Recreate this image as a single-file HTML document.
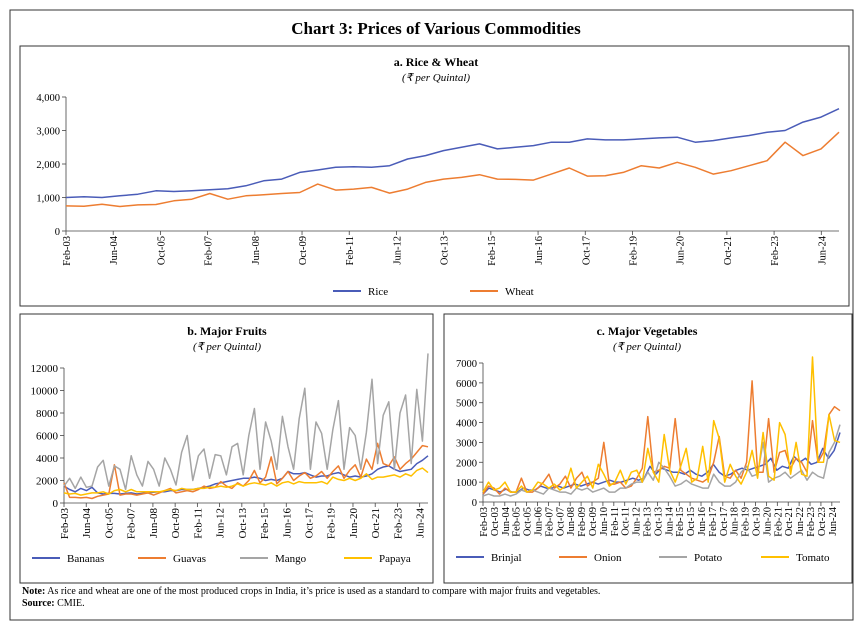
<!DOCTYPE html>
<html><head><meta charset="utf-8"><style>
body{margin:0;background:#fff;}
svg{display:block;font-family:"Liberation Serif",serif;}
</style></head><body>
<svg id="s" width="863" height="634" viewBox="0 0 863 634">
<rect x="10" y="10" width="843" height="610" fill="none" stroke="#333" stroke-width="1"/>
<text x="436" y="34" text-anchor="middle" font-size="17" font-weight="bold">Chart 3: Prices of Various Commodities</text>
<rect x="20" y="46" width="829" height="260" fill="none" stroke="#333"/>
<rect x="20" y="314" width="413" height="269" fill="none" stroke="#333"/>
<rect x="444" y="314" width="408" height="269" fill="none" stroke="#333"/>
<text x="436" y="66" text-anchor="middle" font-size="12" font-weight="bold">a. Rice &amp; Wheat</text>
<text x="436" y="81" text-anchor="middle" font-size="11" font-style="italic">(₹ per Quintal)</text>
<text x="227" y="335" text-anchor="middle" font-size="12" font-weight="bold">b. Major Fruits</text>
<text x="227" y="350" text-anchor="middle" font-size="11" font-style="italic">(₹ per Quintal)</text>
<text x="647" y="335" text-anchor="middle" font-size="12" font-weight="bold">c. Major Vegetables</text>
<text x="647" y="350" text-anchor="middle" font-size="11" font-style="italic">(₹ per Quintal)</text>
<text x="22" y="594" font-size="10"><tspan font-weight="bold">Note:</tspan> As rice and wheat are one of the most produced crops in India, it’s price is used as a standard to compare with major fruits and vegetables.</text>
<text x="22" y="606" font-size="10"><tspan font-weight="bold">Source:</tspan> CMIE.</text>
</svg>
<script>
// Panel a data (two values per year, 2003-2024)
const riceVals=[1000,1020,1000,1050,1100,1200,1180,1200,1230,1260,1350,1500,1550,1750,1820,1900,1920,1900,1950,2150,2250,2400,2500,2600,2450,2500,2550,2650,2650,2750,2720,2720,2750,2780,2800,2650,2700,2780,2850,2950,3000,3250,3400,3650];
const wheatVals=[750,740,800,730,780,790,900,950,1120,950,1050,1080,1120,1150,1400,1220,1250,1300,1130,1250,1450,1550,1600,1680,1550,1540,1520,1700,1880,1640,1650,1750,1950,1880,2050,1900,1700,1800,1950,2100,2650,2250,2450,2950];
const aTicks=[0,1000,2000,3000,4000];
const aTickLabels=["0","1,000","2,000","3,000","4,000"];
// Panel b data (three values per year)
const bananaVals=[1500,1200,1000,1300,1100,1400,900,800,850,850,800,850,900,800,850,900,950,1000,1000,1100,1100,1200,1200,1200,1300,1400,1500,1700,1800,1900,2000,2100,2200,2200,2300,2200,2000,2100,2000,2200,2800,2600,2600,2700,2500,2300,2400,2400,2600,2700,2500,2300,2400,2300,2400,2600,3000,3200,3300,3000,2800,2900,3000,3500,3800,4200];
const guavaVals=[1800,500,500,450,500,400,600,700,800,3400,700,800,800,700,800,900,700,900,1100,1300,900,1000,1100,1000,1200,1500,1300,1400,1900,1500,1300,1800,1500,2000,2900,1800,2300,4100,1700,2200,2800,2000,2400,2700,2200,2400,2800,2200,2800,3300,2200,2900,3400,2300,3900,3000,5300,3500,3300,4100,3000,3500,3900,4500,5100,5000];
const mangoVals=[1500,2200,1300,2300,1400,1500,3200,3800,1500,3300,3000,1200,4200,2500,1500,3700,3000,1500,4000,3000,1600,4500,6000,2000,4200,4800,2200,4300,4200,2500,5000,5300,2500,6000,8400,3000,7200,5500,3000,7700,5000,3000,7500,10200,3000,7200,6200,3000,6500,9100,3000,6700,6000,3000,6300,11000,3500,7800,9000,3000,8000,9600,3500,10100,5500,13300];
const papayaVals=[900,800,850,700,800,900,900,1000,800,1100,1200,1000,1200,1000,1000,1000,1000,1000,1100,1200,1100,1300,1200,1200,1300,1300,1400,1400,1500,1400,1500,1700,1500,1700,1800,1700,1600,1800,1500,1800,1900,1700,1900,1800,1800,1800,1900,1700,2300,2100,2000,2200,2000,2200,2600,2100,2300,2300,2400,2500,2300,2600,2400,2900,3100,2700];
const bTicks=[0,2000,4000,6000,8000,10000,12000];
// Panel c data (three values per year)
const brinjalVals=[400,700,600,500,650,500,500,700,600,600,800,700,700,800,700,800,900,800,900,1000,900,1000,1100,1000,1000,1100,1200,1100,1200,1800,1400,1700,1600,1500,1500,1400,1600,1400,1300,1500,1900,1500,1300,1400,1600,1700,1600,1700,1800,1900,2200,1600,1800,1700,2300,2000,2200,1900,2000,2700,2200,2600,3500];
const onionVals=[400,800,700,400,700,500,500,1200,500,500,700,1000,1400,700,900,1300,700,1200,1500,800,1000,1200,3000,900,900,1000,700,800,1200,1700,4300,1500,1600,1800,1700,4200,1600,1400,1200,1100,1000,1200,2000,3300,1300,1200,1600,1200,2000,6100,1500,1500,4200,1500,2500,2600,1700,2200,2000,1500,4100,2000,2500,4400,4800,4600];
const potatoVals=[300,400,300,300,400,300,400,600,500,600,500,400,700,600,500,500,400,700,600,700,500,600,700,500,500,700,700,900,1000,1000,1500,1100,2000,1700,1300,800,900,1100,900,800,700,700,1400,1000,800,800,1000,1500,1800,1300,1400,3000,1000,1200,1300,1500,1200,1400,1600,1100,1500,1300,1200,2500,3000,3900];
const tomatoVals=[500,1000,600,700,1000,500,500,800,500,600,1000,900,700,900,600,800,1700,700,1000,1300,700,1900,1400,800,1000,1600,900,1500,1600,1000,2700,1500,1000,3400,1600,1000,1800,2700,1000,1200,2800,1000,4100,3200,1000,1900,1300,900,1500,2600,1200,3500,1300,1100,4000,3400,1400,3000,1400,1300,7300,2000,2000,4400,3100,3000];
const cTicks=[0,1000,2000,3000,4000,5000,6000,7000];

const NS="http://www.w3.org/2000/svg";
const svg=document.getElementById('s');
const MON=["Jan","Feb","Mar","Apr","May","Jun","Jul","Aug","Sep","Oct","Nov","Dec"];
const TOTAL=262; // months Feb-03 .. Dec-24
function mk(tag,attrs){const e=document.createElementNS(NS,tag);for(const k in attrs)e.setAttribute(k,attrs[k]);svg.appendChild(e);return e;}
function panel(p){
  const xf=m=>p.x0+(p.x1-p.x0)*m/TOTAL;
  const yf=v=>p.yb-(p.yb-p.yt)*v/p.max;
  // y axis
  const ya=mk('line',{x1:p.x0,y1:p.yb,x2:p.x0,y2:p.yt,stroke:'#444','stroke-width':0.8});
  
  
  p.ticks.forEach((t,i)=>{
    mk('line',{x1:p.x0-4,y1:yf(t),x2:p.x0,y2:yf(t),stroke:'#444','stroke-width':0.8});
    const tx=mk('text',{x:p.x0-6,y:yf(t)+4,'text-anchor':'end','font-size':p.fs});
    tx.textContent=p.tickLabels?p.tickLabels[i]:String(t);
    
    
  });
  const xa=mk('line',{x1:p.x0,y1:p.yb,x2:p.x1,y2:p.yb,stroke:'#444','stroke-width':0.8});
  
  
  for(let m=0;m<=TOTAL;m+=p.step){
    const x=xf(m);
    mk('line',{x1:x,y1:p.yb,x2:x,y2:p.yb+4,stroke:'#444','stroke-width':0.8});
    const mo=(1+m)%12, yr=3+Math.floor((1+m)/12);
    const lab=MON[mo]+'-'+String(yr).padStart(2,'0');
    const tx=mk('text',{x:0,y:0,'text-anchor':'end','font-size':p.fs,transform:`translate(${x+4},${p.yb+5}) rotate(-90)`});
    tx.textContent=lab;
    
    
  }
  p.series.forEach(s=>{
    const n=s.vals.length;
    const pts=s.vals.map((v,i)=>xf(i*TOTAL/(n-1)).toFixed(1)+','+yf(v).toFixed(1)).join(' ');
    const pl=mk('polyline',{points:pts,fill:'none',stroke:s.c,'stroke-width':1.5,'stroke-linejoin':'round'});
    
    
  });
  p.series.forEach((s,i)=>{
    const lx=p.lx[i];
    const l=mk('line',{x1:lx,y1:p.ly,x2:lx+28,y2:p.ly,stroke:s.c,'stroke-width':2});
    
    
    const t=mk('text',{x:lx+35,y:p.ly+4,'font-size':p.lfs});
    t.textContent=s.name;
    
    
  });
}
const BL='#4A5CB8',OR='#ED7D31',GR='#A5A5A5',YE='#FFC000';
panel({id:'panel-a',x0:66,x1:839,yt:97,yb:231,max:4000,ticks:aTicks,tickLabels:aTickLabels,step:16,fs:10.5,lfs:11,
  series:[{name:'Rice',vals:riceVals,c:BL},{name:'Wheat',vals:wheatVals,c:OR}],lx:[333,470],ly:291});
panel({id:'panel-b',x0:64,x1:428,yt:368,yb:503,max:12000,ticks:bTicks,step:16,fs:11,lfs:11,
  series:[{name:'Bananas',vals:bananaVals,c:BL},{name:'Guavas',vals:guavaVals,c:OR},{name:'Mango',vals:mangoVals,c:GR},{name:'Papaya',vals:papayaVals,c:YE}],lx:[32,138,240,344],ly:558});
panel({id:'panel-c',x0:483,x1:840,yt:363,yb:502,max:7000,ticks:cTicks,step:8,fs:10.5,lfs:11,
  series:[{name:'Brinjal',vals:brinjalVals,c:BL},{name:'Onion',vals:onionVals,c:OR},{name:'Potato',vals:potatoVals,c:GR},{name:'Tomato',vals:tomatoVals,c:YE}],lx:[456,559,659,761],ly:557});
</script>
</body></html>
